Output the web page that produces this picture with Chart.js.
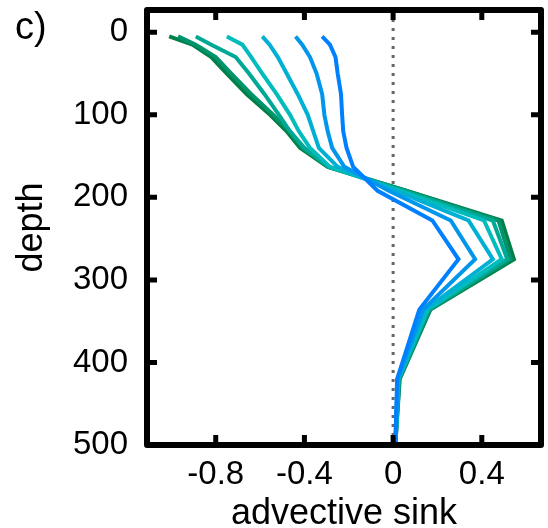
<!DOCTYPE html>
<html>
<head>
<meta charset="utf-8">
<script src="https://cdn.jsdelivr.net/npm/chart.js@4/dist/chart.umd.min.js"></script>
<style>
  body { margin: 0; background: #fff; }
</style>
</head>
<body>
<canvas id="sinkChart" width="548" height="528"></canvas>
<script>

// depth levels (m) where the profiles have vertices
const depths = [5, 15, 30, 50, 75, 100, 120, 140, 163, 192, 228, 275, 336, 420, 500];

// advective sink profiles, blue run first -> darkest green run last
const run1 = [-0.32, -0.285, -0.26, -0.25, -0.235, -0.23, -0.225, -0.21, -0.18, -0.07, 0.177, 0.295, 0.118, 0.018, 0.01];
const run2 = [-0.44, -0.41, -0.375, -0.345, -0.32, -0.31, -0.295, -0.275, -0.22, -0.02, 0.26, 0.37, 0.135, 0.02, 0.01];
const run3 = [-0.59, -0.557, -0.52, -0.48, -0.43, -0.385, -0.36, -0.335, -0.25, 0.01, 0.34, 0.45, 0.145, 0.022, 0.01];
const run4 = [-0.75, -0.68, -0.64, -0.59, -0.525, -0.465, -0.425, -0.375, -0.285, 0.03, 0.41, 0.49, 0.155, 0.024, 0.01];
const run5 = [-0.89, -0.82, -0.71, -0.65, -0.58, -0.515, -0.465, -0.40, -0.29, 0.045, 0.45, 0.515, 0.16, 0.026, 0.01];
const run6 = [-0.97, -0.89, -0.80, -0.73, -0.64, -0.54, -0.465, -0.41, -0.29, 0.055, 0.475, 0.53, 0.165, 0.028, 0.01];
const run7 = [-1.01, -0.905, -0.82, -0.75, -0.66, -0.555, -0.48, -0.42, -0.295, 0.06, 0.49, 0.545, 0.168, 0.03, 0.01];

const runColors = ['#0080ff', '#0096ec', '#00b0d4', '#00bcbc', '#00a896', '#00946c', '#008048'];

const zeroLine = [[0, -27], [0, 500]];

const xTicks = [-0.8, -0.4, 0, 0.4];
const yTicks = [0, 100, 200, 300, 400, 500];

const FONT = '"Liberation Sans", Arial, Helvetica, sans-serif';

const runs = [run1, run2, run3, run4, run5, run6, run7];

const datasets = runs.map((vals, i) => ({
    data: vals.map((v, k) => ({ x: v, y: depths[k] })),
    borderColor: runColors[i],
    borderWidth: 4,
    borderJoinStyle: 'miter',
    showLine: true,
    pointRadius: 0,
    tension: 0
}));

datasets.push({
    data: zeroLine.map(p => ({ x: p[0], y: p[1] })),
    borderColor: '#666666',
    borderWidth: 3,
    borderDash: [3, 6],
    showLine: true,
    pointRadius: 0
});

// black frame with inward ticks on all four sides, plus the panel letter
const framePlugin = {
    id: 'frame',
    afterDatasetsDraw(chart) {
        const { ctx, chartArea: a, scales: { x, y } } = chart;
        ctx.save();
        ctx.strokeStyle = '#000';
        ctx.lineWidth = 6;
        ctx.lineJoin = 'round';
        ctx.strokeRect(a.left, a.top, a.right - a.left, a.bottom - a.top);

        ctx.lineWidth = 5;
        ctx.lineCap = 'butt';
        ctx.beginPath();
        xTicks.forEach(v => {
            const px = x.getPixelForValue(v);
            ctx.moveTo(px, a.bottom); ctx.lineTo(px, a.bottom - 10);
            ctx.moveTo(px, a.top); ctx.lineTo(px, a.top + 10);
        });
        yTicks.forEach(v => {
            const py = y.getPixelForValue(v);
            ctx.moveTo(a.left, py); ctx.lineTo(a.left + 10, py);
            ctx.moveTo(a.right, py); ctx.lineTo(a.right - 10, py);
        });
        ctx.stroke();

        ctx.fillStyle = '#000';
        ctx.font = '38px ' + FONT;
        ctx.textAlign = 'left';
        ctx.textBaseline = 'alphabetic';
        ctx.fillText('c)', 15, 39);
        ctx.restore();
    }
};

const ctx = document.getElementById('sinkChart').getContext('2d');

new Chart(ctx, {
    type: 'scatter',
    data: { datasets },
    options: {
        responsive: false,
        animation: false,
        layout: { padding: { top: 10, right: 7, left: 0, bottom: 0 } },
        plugins: {
            legend: { display: false },
            tooltip: { enabled: false }
        },
        scales: {
            x: {
                type: 'linear',
                min: -1.11,
                max: 0.667,
                grid: { display: false, drawTicks: false },
                border: { display: false },
                afterBuildTicks: s => { s.ticks = xTicks.map(v => ({ value: v })); },
                afterFit: s => { s.height = 83; s.paddingLeft = 0; s.paddingRight = 0; },
                ticks: {
                    color: '#000',
                    padding: 10,
                    maxRotation: 0,
                    font: { family: FONT, size: 33 },
                    callback: v => (v === 0 ? '0' : v.toFixed(1))
                },
                title: {
                    display: true,
                    text: 'advective sink',
                    color: '#000',
                    font: { family: FONT, size: 36 },
                    padding: { top: 0, bottom: -8 }
                }
            },
            y: {
                type: 'linear',
                reverse: true,
                min: -27,
                max: 500,
                grid: { display: false, drawTicks: false },
                border: { display: false },
                afterBuildTicks: s => { s.ticks = yTicks.map(v => ({ value: v })); },
                afterFit: s => { s.width = 147; s.paddingTop = 0; s.paddingBottom = 0; },
                ticks: {
                    color: '#000',
                    padding: 19,
                    font: { family: FONT, size: 33 },
                    callback: v => String(v)
                },
                title: {
                    display: true,
                    text: 'depth',
                    color: '#000',
                    font: { family: FONT, size: 36 },
                    padding: { top: 10, bottom: 0 }
                }
            }
        }
    },
    plugins: [framePlugin]
});
</script>
</body>
</html>
